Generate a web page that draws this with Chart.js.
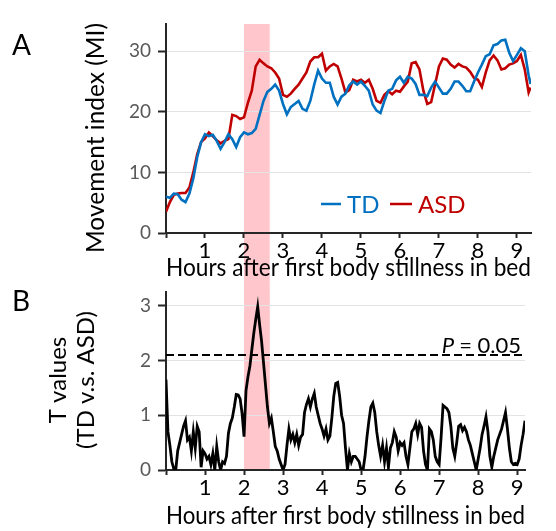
<!DOCTYPE html>
<html><head><meta charset="utf-8">
<script src="https://cdn.jsdelivr.net/npm/chart.js@4"></script>
<style>
html,body{margin:0;padding:0;background:#fff;}
#wrap{position:relative;width:556px;height:531px;overflow:hidden;background:#fff;}
canvas{position:absolute;left:0;}
#c1{top:0;}
#c2{top:290px;}
</style></head><body>
<div id="wrap"><canvas id="c1" width="556" height="290"></canvas><canvas id="c2" width="556" height="241"></canvas></div>
<script>
// ---- Panel A data (hours after first body stillness) ----
const hours = [0,0.1,0.2,0.3,0.4,0.5,0.6,0.7,0.8,0.9,
  1,1.1,1.2,1.3,1.4,1.5,1.6,1.7,1.8,1.9,
  2,2.1,2.2,2.3,2.4,2.5,2.6,2.7,2.8,2.9,
  3,3.1,3.2,3.3,3.4,3.5,3.6,3.7,3.8,3.9,
  4,4.1,4.2,4.3,4.4,4.5,4.6,4.7,4.8,4.9,
  5,5.1,5.2,5.3,5.4,5.5,5.6,5.7,5.8,5.9,
  6,6.1,6.2,6.3,6.4,6.5,6.6,6.7,6.8,6.9,
  7,7.1,7.2,7.3,7.4,7.5,7.6,7.7,7.8,7.9,
  8,8.1,8.2,8.3,8.4,8.5,8.6,8.7,8.8,8.9,
  9,9.1,9.2,9.3,9.35];
const tdValues = [6.0,5.8,6.5,6.4,5.5,5.1,6.5,9.0,12.5,15.0,
  16.3,16.0,16.2,15.2,13.9,15.0,16.3,15.5,14.2,15.8,
  16.6,16.3,16.5,17.2,19.5,21.8,23.3,23.8,24.5,23.5,
  21.3,19.6,20.8,21.3,21.8,20.5,20.2,21.8,24.5,26.8,
  25.5,24.8,24.8,22.5,21.2,22.5,23.0,24.4,25.0,24.5,
  25.0,24.3,23.5,21.2,20.2,19.8,21.8,23.5,23.8,25.2,
  25.8,24.8,25.8,25.5,24.6,22.8,22.8,22.6,24.0,25.0,
  24.0,23.0,23.0,23.8,25.0,25.0,24.3,23.4,23.4,25.0,
  26.5,27.8,29.2,29.5,31.0,31.2,31.8,31.9,29.8,28.4,
  29.4,30.5,30.0,26.0,24.6];
const asdValues = [3.5,5.1,6.3,6.5,6.6,6.6,7.5,10.0,13.0,15.0,
  15.6,16.6,16.0,15.3,14.8,15.2,15.5,19.5,19.3,18.8,
  19.1,21.5,23.5,27.5,28.6,28.0,27.5,27.2,26.5,25.5,
  22.8,22.5,23.0,23.8,24.5,25.5,26.5,28.3,29.0,29.0,
  29.6,26.8,27.5,27.9,27.5,25.5,23.2,23.6,25.3,25.0,
  25.3,24.8,25.3,23.8,21.8,21.5,22.8,23.4,22.9,23.5,
  23.3,24.2,25.0,28.0,28.2,27.0,23.5,21.3,21.6,24.5,
  27.5,28.8,28.6,27.8,27.3,27.9,27.5,27.3,26.6,25.6,
  25.3,24.1,26.5,28.5,29.3,28.5,27.0,27.2,27.8,28.0,
  28.4,29.4,27.0,23.2,24.0];

// ---- Panel B data ----
const tHours = [0,0.05,0.1,0.15,0.2,0.25,0.3,0.35,0.4,0.45,
  0.5,0.55,0.6,0.65,0.7,0.75,0.8,0.85,0.9,0.95,
  1,1.05,1.1,1.15,1.2,1.25,1.3,1.35,1.4,1.45,
  1.5,1.55,1.6,1.65,1.7,1.75,1.8,1.85,1.9,1.95,
  2,2.05,2.1,2.15,2.2,2.25,2.3,2.35,2.4,2.45,
  2.5,2.55,2.6,2.65,2.7,2.75,2.8,2.85,2.9,2.95,
  3,3.05,3.1,3.15,3.2,3.25,3.3,3.35,3.4,3.45,
  3.5,3.55,3.6,3.65,3.7,3.75,3.8,3.85,3.9,3.95,
  4,4.05,4.1,4.15,4.2,4.25,4.3,4.35,4.4,4.45,
  4.5,4.55,4.6,4.65,4.7,4.75,4.8,4.85,4.9,4.95,
  5,5.05,5.1,5.15,5.2,5.25,5.3,5.35,5.4,5.45,
  5.5,5.55,5.6,5.65,5.7,5.75,5.8,5.85,5.9,5.95,
  6,6.05,6.1,6.15,6.2,6.25,6.3,6.35,6.4,6.45,
  6.5,6.55,6.6,6.65,6.7,6.75,6.8,6.85,6.9,6.95,
  7,7.05,7.1,7.15,7.2,7.25,7.3,7.35,7.4,7.45,
  7.5,7.55,7.6,7.65,7.7,7.75,7.8,7.85,7.9,7.95,
  8,8.05,8.1,8.15,8.2,8.25,8.3,8.35,8.4,8.45,
  8.5,8.55,8.6,8.65,8.7,8.75,8.8,8.85,8.9,8.95,
  9,9.05,9.1,9.15,9.2];
const tValues = [1.65,0.70,0.45,0.15,0.02,0.00,0.35,0.50,0.65,0.80,
  0.90,0.55,0.60,0.35,0.70,0.40,0.80,0.70,0.05,0.35,
  0.30,0.20,0.25,0.10,0.30,0.00,0.43,0.15,0.00,0.15,
  0.12,0.25,0.67,0.85,0.95,1.15,1.38,1.37,1.30,1.03,
  0.61,1.45,1.70,1.90,2.20,2.50,2.75,2.98,2.65,2.35,
  1.95,1.55,1.15,0.85,0.95,0.70,0.43,0.35,0.20,0.10,
  0.00,0.10,0.45,0.75,0.55,0.65,0.50,0.65,0.45,0.60,
  0.65,1.05,1.20,1.30,1.15,1.30,1.40,1.15,1.00,0.85,
  0.75,0.62,0.75,0.55,0.62,0.95,1.35,1.58,1.60,1.35,
  1.00,0.85,0.40,0.00,0.30,0.15,0.25,0.25,0.20,0.15,
  0.00,0.00,0.25,0.60,0.90,1.15,1.22,1.05,0.70,0.45,
  0.25,0.45,0.15,0.40,0.05,0.40,0.50,0.70,0.60,0.35,
  0.50,0.45,0.50,0.25,0.10,0.40,0.70,0.75,0.85,0.65,
  0.85,0.78,0.35,0.10,0.00,0.75,0.70,0.55,0.25,0.15,
  0.10,0.60,1.18,1.15,1.12,1.05,0.80,0.40,0.25,0.50,
  0.80,0.83,0.72,0.78,0.70,0.55,0.45,0.30,0.15,0.00,
  0.20,0.40,0.65,0.80,0.97,0.70,0.25,0.05,0.25,0.40,
  0.55,0.65,0.75,0.90,1.05,0.75,0.40,0.15,0.10,0.12,
  0.10,0.20,0.45,0.65,0.90];
const pThreshold = 2.1;
const pLabel = '= 0.05';
const shadeRange = [2.0, 2.66];
const seriesNames = ['TD', 'ASD'];

// ---- styling ----
const FONT = 'Lato, "Open Sans", sans-serif';
const BLUE = '#0070C0', RED = '#C00000', PINK = '#FFC7CB', AXIS = '#262626', GRID = '#E3E3E3';

function shadePlugin(isTop) {
  return {
    id: 'shade' + (isTop ? 'Top' : 'Bottom'),
    beforeDraw(chart) {
      const {ctx, chartArea, scales: {x}} = chart;
      const x0 = x.getPixelForValue(shadeRange[0]);
      const x1 = x.getPixelForValue(shadeRange[1]);
      ctx.save();
      ctx.fillStyle = PINK;
      if (isTop) ctx.fillRect(x0, chartArea.top, x1 - x0, chart.height - chartArea.top);
      else ctx.fillRect(x0, 0, x1 - x0, chartArea.bottom);
      ctx.restore();
    }
  };
}
function rotText(ctx, text, cx, cy, font) {
  ctx.save();
  ctx.translate(cx, cy);
  ctx.rotate(-Math.PI / 2);
  ctx.font = font;
  ctx.textAlign = 'center';
  ctx.textBaseline = 'middle';
  ctx.fillStyle = '#000';
  ctx.fillText(text, 0, 0);
  ctx.restore();
}
const annotTop = {
  id: 'annotTop',
  afterDraw(chart) {
    const ctx = chart.ctx;
    ctx.save();
    ctx.fillStyle = '#000';
    ctx.font = '28px ' + FONT;
    ctx.textAlign = 'left'; ctx.textBaseline = 'middle';
    ctx.fillText('A', 12, 46);
    rotText(ctx, 'Movement index (MI)', 96, 138, '24.5px ' + FONT);
    // legend
    ctx.lineWidth = 2.5;
    ctx.strokeStyle = BLUE;
    ctx.beginPath(); ctx.moveTo(321, 204); ctx.lineTo(341, 204); ctx.stroke();
    ctx.strokeStyle = RED;
    ctx.beginPath(); ctx.moveTo(390, 204); ctx.lineTo(412, 204); ctx.stroke();
    ctx.font = '24px ' + FONT;
    ctx.textBaseline = 'middle';
    ctx.fillStyle = BLUE; ctx.fillText(seriesNames[0], 347, 205);
    ctx.fillStyle = RED; ctx.fillText(seriesNames[1], 418, 205);
    ctx.restore();
  }
};
const annotBottom = {
  id: 'annotBottom',
  afterDraw(chart) {
    const ctx = chart.ctx;
    ctx.save();
    ctx.fillStyle = '#000';
    ctx.font = '28px ' + FONT;
    ctx.textAlign = 'left'; ctx.textBaseline = 'middle';
    ctx.fillText('B', 12, 12);
    rotText(ctx, 'T values', 58, 90, '24px ' + FONT);
    rotText(ctx, '(TD v.s. ASD)', 86, 90, '24px ' + FONT);
    // P label
    ctx.font = '22px ' + FONT;
    ctx.textBaseline = 'alphabetic';
    ctx.textAlign = 'right';
    const right = 521, base = 63;
    ctx.fillText(pLabel, right, base);
    const w = ctx.measureText(pLabel).width;
    ctx.font = 'italic 22px ' + FONT;
    ctx.fillText('P', right - w - 5, base);
    ctx.restore();
  }
};

Chart.defaults.font.family = FONT;

new Chart(document.getElementById('c1'), {
  type: 'line',
  data: {
    labels: hours,
    datasets: [
      {label: seriesNames[0], data: tdValues, borderColor: BLUE, borderWidth: 2.6, pointRadius: 0, tension: 0},
      {label: seriesNames[1], data: asdValues, borderColor: RED, borderWidth: 2.6, pointRadius: 0, tension: 0}
    ]
  },
  options: {
    responsive: false, animation: false,
    layout: {padding: {top: 24, right: 25, bottom: 0, left: 0}},
    plugins: {legend: {display: false}, tooltip: {enabled: false}},
    scales: {
      x: {
        type: 'linear', min: 0, max: 9.36,
        ticks: {stepSize: 1, includeBounds: false, autoSkip: false, maxRotation: 0, color: '#000',
                font: {size: 22}, padding: 0, callback: v => v === 0 ? '' : String(v)},
        grid: {drawOnChartArea: false, tickLength: 5, tickColor: AXIS, tickWidth: 2},
        border: {color: AXIS, width: 2},
        title: {display: true, text: 'Hours after first body stillness in bed', color: '#000',
                font: {size: 24.5}, padding: {top: 0, bottom: 7}},
        afterFit: s => { s.height = 57; s.paddingLeft = 0; s.paddingRight = 0; }
      },
      y: {
        min: 0, max: 34.5,
        ticks: {stepSize: 10, includeBounds: false, color: '#595959', font: {size: 19}, padding: 7},
        grid: {color: GRID, lineWidth: 1, tickLength: 8, tickColor: AXIS, tickWidth: 2},
        border: {color: AXIS, width: 2},
        afterFit: s => { s.width = 166; s.paddingTop = 0; s.paddingBottom = 0; }
      }
    }
  },
  plugins: [shadePlugin(true), annotTop]
});

new Chart(document.getElementById('c2'), {
  type: 'line',
  data: {
    labels: tHours,
    datasets: [
      {data: tValues, borderColor: '#000', borderWidth: 2.8, pointRadius: 0, tension: 0},
      {data: [{x: 0, y: pThreshold}, {x: tHours[tHours.length - 1], y: pThreshold}],
       borderColor: '#000', borderWidth: 2.2, borderDash: [8, 4], pointRadius: 0}
    ]
  },
  options: {
    responsive: false, animation: false,
    layout: {padding: {top: 2, right: 31, bottom: 0, left: 0}},
    plugins: {legend: {display: false}, tooltip: {enabled: false}},
    scales: {
      x: {
        type: 'linear', min: 0, max: 9.2,
        ticks: {stepSize: 1, includeBounds: false, autoSkip: false, maxRotation: 0, color: '#000',
                font: {size: 22}, padding: 0, callback: v => v === 0 ? '' : String(v)},
        grid: {drawOnChartArea: false, tickLength: 5, tickColor: AXIS, tickWidth: 2},
        border: {color: AXIS, width: 2},
        title: {display: true, text: 'Hours after first body stillness in bed', color: '#000',
                font: {size: 24.5}, padding: {top: 0, bottom: 0}},
        afterFit: s => { s.height = 61; s.paddingLeft = 0; s.paddingRight = 0; }
      },
      y: {
        min: 0, max: 3.25,
        ticks: {stepSize: 1, includeBounds: false, color: '#595959', font: {size: 19}, padding: 7},
        grid: {color: GRID, lineWidth: 1, tickLength: 8, tickColor: AXIS, tickWidth: 2},
        border: {color: AXIS, width: 2},
        afterFit: s => { s.width = 166; s.paddingTop = 0; s.paddingBottom = 0; }
      }
    }
  },
  plugins: [shadePlugin(false), annotBottom]
});
</script>
</body></html>
